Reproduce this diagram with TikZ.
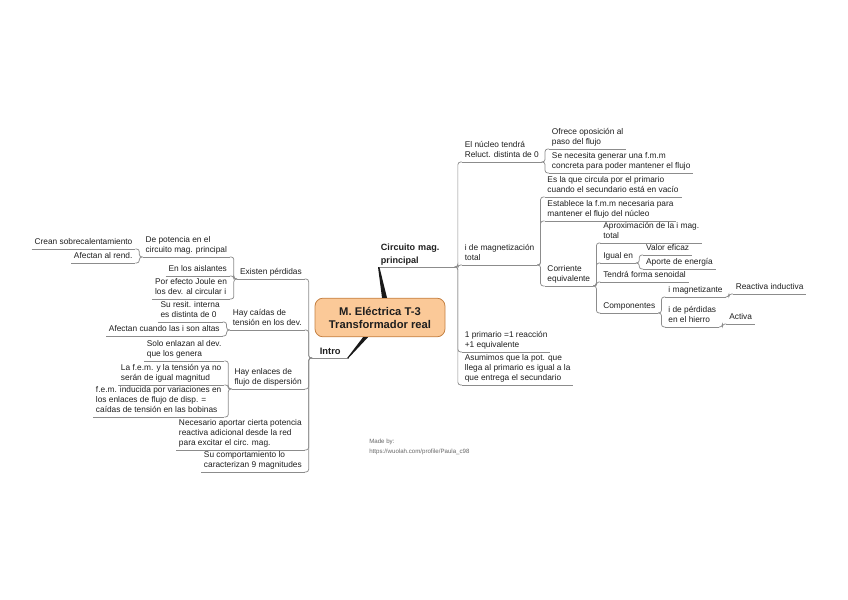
\documentclass[tikz,border=0pt]{standalone}
\usepackage{fontspec}
\setmainfont{Liberation Sans}
\usetikzlibrary{calc}
\definecolor{peach}{RGB}{251,201,152}
\definecolor{peachborder}{RGB}{196,128,66}
\definecolor{txt}{RGB}{30,30,30}
\definecolor{lin}{RGB}{140,140,140}
\begin{document}
\begin{tikzpicture}[x=0.75pt,y=-0.75pt,
  ul/.style={draw=lin,line width=0.55pt},
  conn/.style={draw=lin,line width=0.55pt,rounded corners=2pt},
  t/.style={font=\fontsize{6.25}{7.7}\selectfont,align=left,inner xsep=2pt,inner ysep=1.6pt,text=txt,
    execute at end node={\rule[-1.5pt]{0pt}{1.5pt}},
    append after command={(\tikzlastnode.south west) edge[ul] (\tikzlastnode.south east)}},
  tr/.style={t,anchor=south west},
  tl/.style={t,anchor=south east},
  mainbox/.style={draw=peachborder,fill=peach,rounded corners=6pt,line width=0.6pt,
    minimum width=97.5pt,minimum height=29pt,align=center,inner sep=2pt,text=txt,
    font=\bfseries\fontsize{8.4}{9.8}\selectfont},
  maintopic/.style={font=\bfseries\fontsize{6.8}{9.5}\selectfont,inner ysep=1pt},
  wedge/.style={fill=black!90}
]
\useasboundingbox (0,0) rectangle (848,599);

% central topic
\node[mainbox] (M) at (380,317.5) {M. Eléctrica T-3\\Transformador real};

% main topics
\node[tr,maintopic,text width=53pt] (C) at (378,267) {Circuito mag.\\principal};
\node[t,anchor=south west,maintopic,font=\bfseries\fontsize{7}{8}\selectfont,minimum width=27pt] (I) at (312,358) {Intro};

\fill[wedge] (C.south west) -- ++(1.4,0) -- ($(M.north)+(7,0)$) -- ($(M.north)+(2,0)$) -- cycle;
\fill[wedge] (I.south east) -- ++(-1.4,0) -- ($(M.south)+(-17,0)$) -- ($(M.south)+(-12,0)$) -- cycle;

% right side
\node[tr] (R1) at ([xshift=5.5pt]C.south east |- 0,162) {El núcleo tendrá\\Reluct. distinta de 0};
\node[tr] (R1a) at ([xshift=5.5pt]R1.south east |- 0,149) {Ofrece oposición al\\paso del flujo};
\node[tr] (R1b) at ([xshift=5.5pt]R1.south east |- 0,173) {Se necesita generar una f.m.m\\concreta para poder mantener el flujo};
\node[tr] (R2) at ([xshift=5.5pt]C.south east |- 0,265) {i de magnetización\\total};
\node[tr] (R2a) at ([xshift=5.5pt]R2.south east |- 0,197) {Es la que circula por el primario\\cuando el secundario está en vacío};
\node[tr] (R2b) at ([xshift=5.5pt]R2.south east |- 0,221) {Establece la f.m.m necesaria para\\mantener el flujo del núcleo};
\node[tr] (R2c) at ([xshift=5.5pt]R2.south east |- 0,286) {Corriente\\equivalente};
\node[tr] (R2c1) at ([xshift=5.5pt]R2c.south east |- 0,243) {Aproximación de la i mag.\\total};
\node[tr] (R2c2) at ([xshift=5.5pt]R2c.south east |- 0,263) {Igual en};
\node[tr] (R2c2a) at ([xshift=5.5pt]R2c2.south east |- 0,255) {Valor eficaz};
\node[tr] (R2c2b) at ([xshift=5.5pt]R2c2.south east |- 0,269) {Aporte de energía};
\node[tr] (R2c3) at ([xshift=5.5pt]R2c.south east |- 0,282) {Tendrá forma senoidal};
\node[tr] (R2c4) at ([xshift=5.5pt]R2c.south east |- 0,313) {Componentes};
\node[tr] (R2c4a) at ([xshift=5.5pt]R2c4.south east |- 0,297) {i magnetizante};
\node[tr] (R2c4a1) at ([xshift=5.5pt]R2c4a.south east |- 0,294) {Reactiva inductiva};
\node[tr] (R2c4b) at ([xshift=5.5pt]R2c4.south east |- 0,327) {i de pérdidas\\en el hierro};
\node[tr] (R2c4b1) at ([xshift=5.5pt]R2c4b.south east |- 0,324) {Activa};
\node[tr] (R3) at ([xshift=5.5pt]C.south east |- 0,352) {1 primario =1 reacción\\+1 equivalente};
\node[tr] (R4) at ([xshift=5.5pt]C.south east |- 0,385) {Asumimos que la pot. que\\llega al primario es igual a la\\que entrega el secundario};

% left side
\node[tl] (L1) at ([xshift=-5.5pt]I.south west |- 0,279) {Existen pérdidas};
\node[tl] (L1a) at ([xshift=-5.5pt]L1.south west |- 0,257) {De potencia en el\\circuito mag. principal};
\node[tl] (L1a1) at ([xshift=-5.5pt]L1a.south west |- 0,249) {Crean sobrecalentamiento};
\node[tl] (L1a2) at ([xshift=-5.5pt]L1a.south west |- 0,263) {Afectan al rend.};
\node[tl] (L1b) at ([xshift=-5.5pt]L1.south west |- 0,276) {En los aislantes};
\node[tl] (L1c) at ([xshift=-5.5pt]L1.south west |- 0,299) {Por efecto Joule en\\los dev. al circular i};
\node[tl] (L2) at ([xshift=-5.5pt]I.south west |- 0,330) {Hay caídas de\\tensión en los dev.};
\node[tl] (L2a) at ([xshift=-5.5pt]L2.south west |- 0,322) {Su resit. interna\\es distinta de 0};
\node[tl] (L2b) at ([xshift=-5.5pt]L2.south west |- 0,336) {Afectan cuando las i son altas};
\node[tl] (L3) at ([xshift=-5.5pt]I.south west |- 0,389) {Hay enlaces de\\flujo de dispersión};
\node[tl] (L3a) at ([xshift=-5.5pt]L3.south west |- 0,361) {Solo enlazan al dev.\\que los genera};
\node[tl] (L3b) at ([xshift=-5.5pt]L3.south west |- 0,385) {La f.e.m. y la tensión ya no\\serán de igual magnitud};
\node[tl] (L3c) at ([xshift=-5.5pt]L3.south west |- 0,417) {f.e.m. inducida por variaciones en\\los enlaces de flujo de disp. =\\caídas de tensión en las bobinas};
\node[tl] (L4) at ([xshift=-5.5pt]I.south west |- 0,450) {Necesario aportar cierta potencia\\reactiva adicional desde la red\\para excitar el circ. mag.};
\node[tl] (L5) at ([xshift=-5.5pt]I.south west |- 0,472) {Su comportamiento lo\\caracterizan 9 magnitudes};

% connectors right
\foreach \p/\c in {C/R1,C/R2,C/R3,C/R4,R1/R1a,R1/R1b,R2/R2a,R2/R2b,R2/R2c,
  R2c/R2c1,R2c/R2c2,R2c/R2c3,R2c/R2c4,R2c2/R2c2a,R2c2/R2c2b,R2c4/R2c4a,R2c4/R2c4b,
  R2c4a/R2c4a1,R2c4b/R2c4b1}
  \draw[conn] (\p.south east) -- ++(2.5pt,0) |- (\c.south west);

% connectors left
\foreach \p/\c in {I/L1,I/L2,I/L3,I/L4,I/L5,L1/L1a,L1/L1b,L1/L1c,L1a/L1a1,L1a/L1a2,
  L2/L2a,L2/L2b,L3/L3a,L3/L3b,L3/L3c}
  \draw[conn] (\p.south west) -- ++(-2.5pt,0) |- (\c.south east);

% credit
\node[anchor=north west,font=\fontsize{4.6}{7.2}\selectfont,text=black!60,align=left,inner sep=0] (mb) at (369,439) {Made by:\\https://wuolah.com/profile/Paula\_c98};
\end{tikzpicture}
\end{document}
